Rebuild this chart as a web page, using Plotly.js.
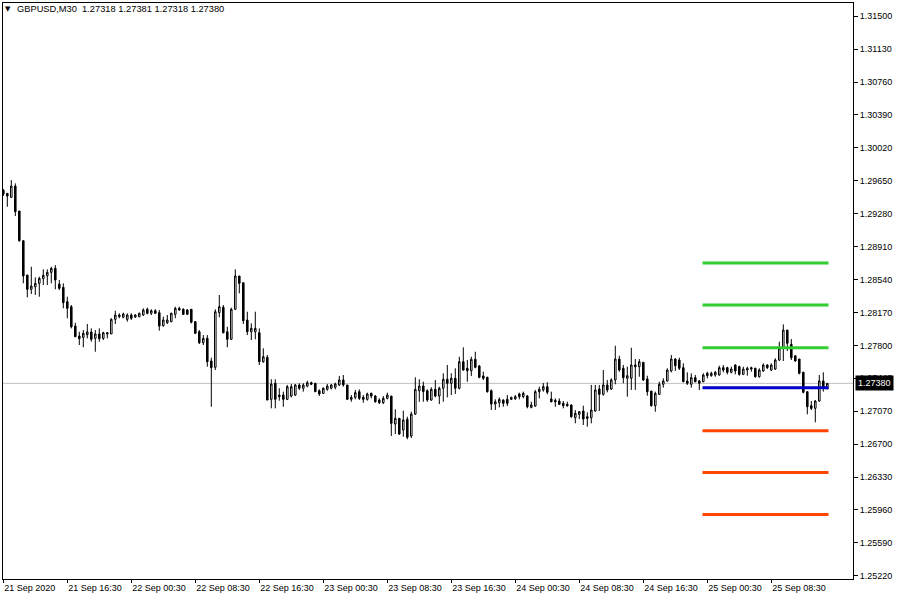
<!DOCTYPE html>
<html>
<head>
<meta charset="utf-8">
<script src="https://cdn.plot.ly/plotly-3.0.1.min.js"></script>
<style>
  html, body { margin: 0; padding: 0; background: #ffffff; }
  #chart { width: 900px; height: 600px; }
</style>
</head>
<body>
<div id="chart"></div>
<script>
// ---- GBPUSD M30, one entry per bar ----
const symbol = "GBPUSD,M30";

const open = [
1.29548,1.29511,1.29466,1.29593,1.29313,1.28980,1.28595,1.28435,1.28464,1.28502,
1.28554,1.28587,1.28625,1.28670,1.28494,1.28457,1.28296,1.28240,1.28023,1.27911,
1.27896,1.27926,1.27956,1.27885,1.27934,1.27885,1.27934,1.27934,1.28098,1.28128,
1.28121,1.28098,1.28147,1.28124,1.28128,1.28147,1.28211,1.28166,1.28195,1.28173,
1.28027,1.28060,1.28072,1.28154,1.28222,1.28211,1.28203,1.28211,1.28072,1.27959,
1.27836,1.27885,1.27631,1.27560,1.28173,1.28233,1.27959,1.27874,1.28211,1.28584,
1.28509,1.28091,1.27959,1.27959,1.27948,1.27623,1.27672,1.27201,1.27381,1.27249,
1.27249,1.27201,1.27238,1.27249,1.27362,1.27325,1.27350,1.27388,1.27381,1.27298,
1.27268,1.27313,1.27325,1.27336,1.27362,1.27418,1.27362,1.27201,1.27223,1.27287,
1.27223,1.27201,1.27268,1.27238,1.27193,1.27163,1.27212,1.27238,1.26924,1.26988,
1.26857,1.26977,1.26790,1.27036,1.27298,1.27350,1.27298,1.27193,1.27313,1.27238,
1.27325,1.27426,1.27381,1.27437,1.27325,1.27623,1.27549,1.27522,1.27650,1.27575,
1.27463,1.27448,1.27298,1.27148,1.27163,1.27193,1.27201,1.27201,1.27208,1.27261,
1.27231,1.27238,1.27111,1.27126,1.27287,1.27306,1.27343,1.27205,1.27190,1.27182,
1.27156,1.27145,1.27137,1.26995,1.27033,1.27070,1.27006,1.26995,1.27070,1.27317,
1.27257,1.27362,1.27317,1.27418,1.27653,1.27549,1.27437,1.27437,1.27586,1.27567,
1.27616,1.27429,1.27294,1.27130,1.27257,1.27370,1.27407,1.27519,1.27653,1.27642,
1.27556,1.27407,1.27370,1.27444,1.27407,1.27399,1.27493,1.27466,1.27474,1.27474,
1.27556,1.27556,1.27504,1.27586,1.27567,1.27481,1.27530,1.27556,1.27549,1.27455,
1.27519,1.27586,1.27530,1.27541,1.27642,1.27773,1.27978,1.27818,1.27690,1.27653,
1.27504,1.27287,1.27130,1.27100,1.27182,1.27407,1.27318
];
const high = [
1.29559,1.29515,1.29660,1.29623,1.29313,1.28980,1.28595,1.28688,1.28569,1.28576,
1.28659,1.28659,1.28688,1.28707,1.28539,1.28502,1.28352,1.28259,1.28060,1.27959,
1.27978,1.28046,1.27997,1.27978,1.27997,1.27959,1.27956,1.28110,1.28195,1.28166,
1.28173,1.28166,1.28166,1.28158,1.28173,1.28222,1.28229,1.28211,1.28211,1.28203,
1.28128,1.28147,1.28173,1.28240,1.28240,1.28222,1.28214,1.28214,1.28079,1.27978,
1.27922,1.27922,1.27668,1.28211,1.28371,1.28259,1.28015,1.28229,1.28659,1.28584,
1.28509,1.28184,1.28053,1.28184,1.27997,1.27773,1.27698,1.27426,1.27426,1.27325,
1.27287,1.27362,1.27373,1.27373,1.27381,1.27381,1.27410,1.27399,1.27381,1.27313,
1.27336,1.27373,1.27373,1.27388,1.27463,1.27474,1.27362,1.27249,1.27306,1.27313,
1.27249,1.27276,1.27276,1.27249,1.27212,1.27238,1.27276,1.27238,1.27089,1.26988,
1.27074,1.27006,1.27062,1.27448,1.27426,1.27399,1.27313,1.27336,1.27418,1.27343,
1.27493,1.27586,1.27493,1.27549,1.27679,1.27784,1.27642,1.27679,1.27735,1.27586,
1.27511,1.27455,1.27313,1.27201,1.27223,1.27201,1.27249,1.27231,1.27249,1.27276,
1.27287,1.27249,1.27174,1.27306,1.27343,1.27384,1.27392,1.27287,1.27212,1.27212,
1.27182,1.27174,1.27145,1.27081,1.27070,1.27130,1.27055,1.27362,1.27362,1.27362,
1.27530,1.27418,1.27437,1.27802,1.27690,1.27586,1.27567,1.27780,1.27653,1.27653,
1.27616,1.27466,1.27294,1.27287,1.27399,1.27437,1.27549,1.27698,1.27661,1.27668,
1.27605,1.27504,1.27493,1.27474,1.27418,1.27493,1.27511,1.27511,1.27519,1.27578,
1.27586,1.27567,1.27567,1.27594,1.27578,1.27567,1.27567,1.27567,1.27556,1.27549,
1.27605,1.27594,1.27605,1.27661,1.27847,1.28042,1.27978,1.27877,1.27690,1.27653,
1.27511,1.27287,1.27182,1.27193,1.27474,1.27504,1.27381
];
const low = [
1.29481,1.29361,1.29466,1.29257,1.28969,1.28502,1.28345,1.28382,1.28371,1.28352,
1.28483,1.28483,1.28502,1.28435,1.28427,1.28222,1.28110,1.27997,1.27903,1.27810,
1.27784,1.27885,1.27847,1.27735,1.27847,1.27866,1.27885,1.27934,1.28046,1.28110,
1.28110,1.28072,1.28091,1.28113,1.28121,1.28136,1.28154,1.28147,1.28158,1.27971,
1.28015,1.28046,1.28065,1.28110,1.28195,1.28147,1.28150,1.28053,1.27934,1.27821,
1.27810,1.27567,1.27118,1.27530,1.28121,1.27941,1.27784,1.27866,1.28203,1.28390,
1.28046,1.27922,1.27866,1.27874,1.27586,1.27612,1.27193,1.27100,1.27100,1.27186,
1.27118,1.27193,1.27223,1.27238,1.27306,1.27287,1.27336,1.27362,1.27287,1.27238,
1.27261,1.27298,1.27313,1.27313,1.27350,1.27343,1.27193,1.27174,1.27201,1.27193,
1.27163,1.27186,1.27212,1.27163,1.27148,1.27148,1.27201,1.26790,1.26812,1.26801,
1.26782,1.26753,1.26767,1.27025,1.27174,1.27174,1.27174,1.27186,1.27223,1.27148,
1.27174,1.27223,1.27249,1.27261,1.27313,1.27522,1.27399,1.27463,1.27549,1.27437,
1.27418,1.27276,1.27081,1.27081,1.27111,1.27118,1.27126,1.27193,1.27193,1.27201,
1.27212,1.27100,1.27100,1.27118,1.27212,1.27287,1.27257,1.27167,1.27118,1.27137,
1.27100,1.27118,1.26995,1.26932,1.26980,1.26913,1.26894,1.26932,1.27062,1.27070,
1.27242,1.27280,1.27306,1.27370,1.27511,1.27381,1.27231,1.27306,1.27306,1.27455,
1.27407,1.27242,1.27118,1.27062,1.27249,1.27332,1.27399,1.27504,1.27519,1.27530,
1.27392,1.27362,1.27332,1.27392,1.27306,1.27392,1.27437,1.27455,1.27455,1.27466,
1.27504,1.27481,1.27493,1.27481,1.27466,1.27474,1.27466,1.27511,1.27444,1.27444,
1.27511,1.27541,1.27519,1.27530,1.27631,1.27631,1.27743,1.27642,1.27623,1.27481,
1.27268,1.27033,1.27081,1.26943,1.27174,1.27287,1.27318
];
const close = [
1.29503,1.29481,1.29593,1.29305,1.28980,1.28584,1.28435,1.28472,1.28502,1.28558,
1.28592,1.28625,1.28670,1.28539,1.28446,1.28285,1.28222,1.28015,1.27903,1.27881,
1.27941,1.27956,1.27874,1.27934,1.27881,1.27948,1.27948,1.28098,1.28147,1.28147,
1.28158,1.28147,1.28110,1.28147,1.28166,1.28203,1.28166,1.28195,1.28166,1.28023,
1.28091,1.28091,1.28166,1.28222,1.28203,1.28154,1.28154,1.28065,1.27941,1.27836,
1.27885,1.27623,1.27556,1.28184,1.28240,1.27948,1.27874,1.28211,1.28584,1.28502,
1.28083,1.27959,1.27997,1.27997,1.27623,1.27679,1.27193,1.27373,1.27201,1.27231,
1.27201,1.27343,1.27343,1.27362,1.27325,1.27362,1.27388,1.27370,1.27287,1.27261,
1.27325,1.27350,1.27362,1.27373,1.27418,1.27362,1.27201,1.27223,1.27276,1.27212,
1.27201,1.27261,1.27238,1.27174,1.27163,1.27212,1.27249,1.26932,1.26988,1.26812,
1.26969,1.26775,1.27036,1.27313,1.27350,1.27287,1.27193,1.27313,1.27238,1.27325,
1.27426,1.27381,1.27437,1.27325,1.27623,1.27530,1.27522,1.27650,1.27560,1.27448,
1.27437,1.27287,1.27148,1.27174,1.27201,1.27156,1.27156,1.27223,1.27231,1.27231,
1.27268,1.27118,1.27137,1.27287,1.27313,1.27343,1.27280,1.27174,1.27174,1.27145,
1.27130,1.27130,1.27006,1.27044,1.27062,1.26980,1.26988,1.27081,1.27306,1.27257,
1.27362,1.27306,1.27418,1.27653,1.27530,1.27444,1.27466,1.27586,1.27567,1.27623,
1.27418,1.27287,1.27130,1.27268,1.27370,1.27407,1.27530,1.27653,1.27578,1.27549,
1.27399,1.27381,1.27444,1.27399,1.27381,1.27474,1.27466,1.27493,1.27504,1.27556,
1.27530,1.27504,1.27541,1.27519,1.27481,1.27541,1.27549,1.27541,1.27455,1.27530,
1.27586,1.27556,1.27586,1.27642,1.27773,1.27978,1.27829,1.27668,1.27631,1.27493,
1.27280,1.27118,1.27100,1.27182,1.27407,1.27332,1.27380
];

// time-axis labels (one every 16 bars)
const timeTickBars = [0, 16, 32, 48, 64, 80, 96, 112, 128, 144, 160, 176, 192];
const timeTickText = ["21 Sep 2020","21 Sep 16:30","22 Sep 00:30","22 Sep 08:30","22 Sep 16:30",
  "23 Sep 00:30","23 Sep 08:30","23 Sep 16:30","24 Sep 00:30","24 Sep 08:30","24 Sep 16:30",
  "25 Sep 00:30","25 Sep 08:30"];

// price-axis labels
const priceTicks = [1.31500,1.31130,1.30760,1.30390,1.30020,1.29650,1.29280,1.28910,1.28540,
  1.28170,1.27800,1.27440,1.27070,1.26700,1.26330,1.25960,1.25590,1.25220];

// horizontal levels drawn on 25 Sep
const levelStartBar = 174.8;
const levelEndBar = 206.3;
const greenLevels = [1.2873, 1.2826, 1.2778];
const blueLevels = [1.2733];
const redLevels = [1.2685, 1.2638, 1.2591];

// ---------------------------------------------------------------
const bars = open.map((_, i) => i);
const last = close.length - 1;

function levelTrace(levels, color) {
  const xs = [], ys = [];
  levels.forEach(v => { xs.push(levelStartBar, levelEndBar, null); ys.push(v, v, null); });
  return { type: 'scatter', mode: 'lines', x: xs, y: ys, hoverinfo: 'skip',
           line: { color: color, width: 3 }, showlegend: false };
}

const candles = {
  type: 'candlestick', x: bars, open: open, high: high, low: low, close: close,
  increasing: { line: { color: '#000000', width: 1 }, fillcolor: '#ffffff' },
  decreasing: { line: { color: '#000000', width: 1 }, fillcolor: '#000000' },
  whiskerwidth: 0, hoverinfo: 'skip', showlegend: false
};

const fontFam = '"Liberation Sans", Arial, sans-serif';
const fmt = v => v.toFixed(5);

const layout = {
  width: 900, height: 600,
  margin: { l: 3, r: 47, t: 3, b: 21 },
  paper_bgcolor: '#ffffff', plot_bgcolor: '#ffffff',
  boxgap: 0.45,
  showlegend: false,
  font: { family: fontFam, size: 9, color: '#000000' },
  xaxis: {
    range: [-0.075, 212.425], showgrid: false, zeroline: false,
    showline: true, mirror: true, linecolor: '#000000', linewidth: 1,
    ticks: 'outside', ticklen: 3, tickcolor: '#000000', tickwidth: 1,
    tickvals: timeTickBars, ticktext: timeTickText,
    ticklabelposition: 'outside right',
    tickfont: { family: fontFam, size: 9, color: '#000000' },
    rangeslider: { visible: false }, fixedrange: true
  },
  yaxis: {
    side: 'right', range: [1.25186, 1.31646], showgrid: false, zeroline: false,
    showline: true, mirror: true, linecolor: '#000000', linewidth: 1,
    ticks: 'outside', ticklen: 4, tickcolor: '#000000', tickwidth: 1,
    tickvals: priceTicks, ticktext: priceTicks.map(fmt),
    tickfont: { family: fontFam, size: 9, color: '#000000' },
    fixedrange: true
  },
  shapes: [{
    type: 'line', xref: 'paper', x0: 0, x1: 1, yref: 'y', y0: close[last], y1: close[last],
    line: { color: '#c0c0c0', width: 1 }, layer: 'below'
  }],
  annotations: [
    { xref: 'paper', yref: 'paper', x: 0, y: 1, xanchor: 'left', yanchor: 'middle',
      xshift: 0, yshift: -6, showarrow: false, text: '▼',
      font: { family: '"DejaVu Sans", sans-serif', size: 7, color: '#000000' } },
    { xref: 'paper', yref: 'paper', x: 0, y: 1, xanchor: 'left', yanchor: 'middle',
      xshift: 12, yshift: -6, showarrow: false,
      text: symbol + '\u00a0\u00a0' + [open[last], high[last], low[last], close[last]].map(fmt).join(' '),
      font: { family: fontFam, size: 9.3, color: '#000000' } },
    { xref: 'paper', yref: 'y', x: 1, y: close[last], xanchor: 'left', yanchor: 'middle',
      xshift: 2, showarrow: false, text: fmt(close[last]), bgcolor: '#000000',
      borderpad: 2, font: { family: fontFam, size: 9, color: '#ffffff' } }
  ]
};

Plotly.newPlot('chart', [
  candles,
  levelTrace(greenLevels, '#32cd32'),
  levelTrace(blueLevels, '#0000cd'),
  levelTrace(redLevels, '#ff4500')
], layout, { staticPlot: true, displayModeBar: false });
</script>
</body>
</html>
